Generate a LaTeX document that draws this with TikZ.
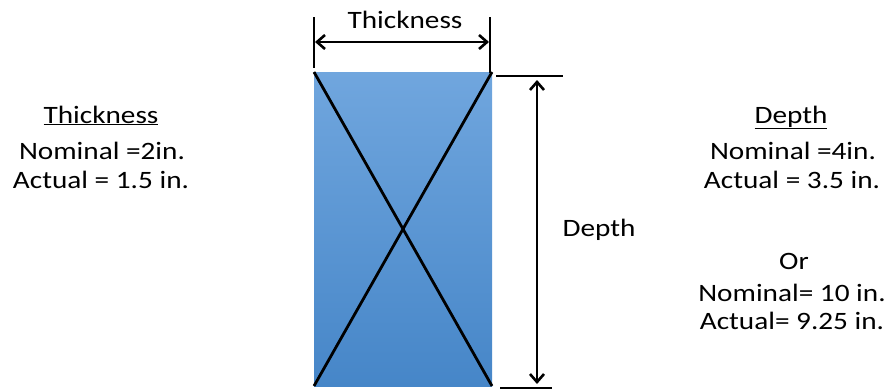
\documentclass[tikz,border=0pt]{standalone}
\usepackage{fontspec}
\setmainfont{Carlito}
\usetikzlibrary{arrows.meta}
\definecolor{boxtop}{RGB}{112,166,222}
\definecolor{boxbot}{RGB}{70,134,200}
\newcommand{\stretchtxt}[1]{\scalebox{1.17}[1]{#1}}
\begin{document}
\begin{tikzpicture}[x=1pt,y=-1pt,
  lbl/.style={font=\fontsize{25}{30}\selectfont, inner sep=0pt, anchor=base},
  dimline/.style={line width=2.8pt, black},
  dimarrow/.style={line width=2.6pt, black, {Straight Barb[length=8pt,width=14pt]}-{Straight Barb[length=8pt,width=14pt]}}]
\useasboundingbox (0,0) rectangle (888,388);
\clip (0,0) rectangle (888,388);
% beam cross-section
\shade[top color=boxtop, bottom color=boxbot] (314,72) rectangle (492,386);
\coordinate (tl) at (314,72);
\coordinate (tr) at (492,72);
\coordinate (bl) at (314,386);
\coordinate (br) at (492,386);
\draw[dimline] (tl) -- (br);
\draw[dimline] (tr) -- (bl);
% thickness dimension
\coordinate (lt1) at (314,17);
\coordinate (lt2) at (314,68);
\coordinate (rt1) at (490,17);
\coordinate (rt2) at (490,73);
\draw[dimline] (lt1) -- (lt2);
\draw[dimline] (rt1) -- (rt2);
\coordinate (ta) at (315,42);
\coordinate (tb) at (489,42);
\draw[dimarrow] (ta) -- (tb);
\node[lbl] (thk) at (405,28) {\stretchtxt{Thickness}};
% depth dimension
\coordinate (dt1) at (496,76);
\coordinate (dt2) at (563,76);
\draw[dimline] (dt1) -- (dt2);
\coordinate (db1) at (500,388.5);
\coordinate (db2) at (552,388.5);
\draw[dimline] (db1) -- (db2);
\coordinate (da) at (537,80);
\coordinate (db) at (537,384);
\draw[dimarrow] (da) -- (db);
\node[lbl] (dep) at (599,236) {\stretchtxt{Depth}};
% left block
\node[lbl] (lh) at (101,123) {\stretchtxt{\underline{Thickness}}};
\node[lbl] (ln) at (102,159) {\stretchtxt{Nominal =2in.}};
\node[lbl] (la) at (101,188) {\stretchtxt{Actual = 1.5 in.}};
% right block
\node[lbl] (rh) at (791,123) {\stretchtxt{\underline{Depth}}};
\node[lbl] (rn) at (793,159) {\stretchtxt{Nominal =4in.}};
\node[lbl] (ra) at (792,188) {\stretchtxt{Actual = 3.5 in.}};
\node[lbl] (ro) at (794,269) {\stretchtxt{Or}};
\node[lbl] (rn2) at (792,301) {\stretchtxt{Nominal= 10 in.}};
\node[lbl] (ra2) at (792,329) {\stretchtxt{Actual= 9.25 in.}};
\end{tikzpicture}
\end{document}
